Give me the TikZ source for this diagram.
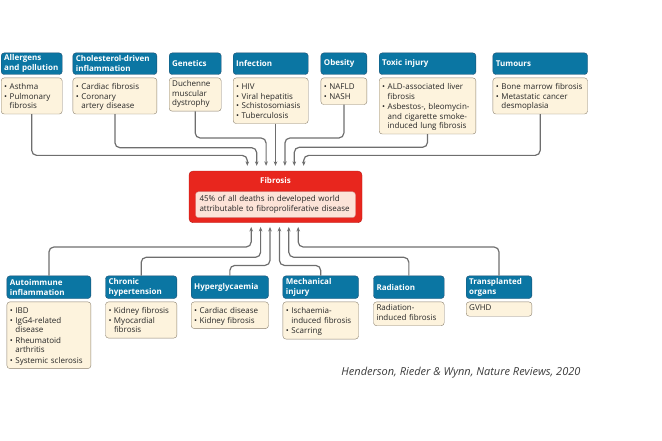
\documentclass[tikz,border=0pt]{standalone}
\usepackage{fontspec}
\setmainfont{Open Sans}
\usetikzlibrary{positioning, arrows.meta}
\definecolor{headblue}{HTML}{0B76A3}
\definecolor{headline}{HTML}{1E4F72}
\definecolor{bodyfill}{HTML}{FDF3DD}
\definecolor{bodyline}{HTML}{8B806E}
\definecolor{linkgray}{HTML}{6E6E6E}
\definecolor{fibred}{HTML}{E8261E}
\definecolor{fibline}{HTML}{B81C16}
\definecolor{fibpink}{HTML}{FCE3D8}
\definecolor{citegray}{HTML}{3A3A3A}
\setlength{\lineskip}{0pt}
% one bullet line, later lines hang under the text
\newcommand{\blt}[1]{\par\noindent\makebox[5.5pt][l]{\textbullet}\parbox[t]{\dimexpr\hsize-5.5pt\relax}{\raggedright\strut#1\strut}}
\tikzset{
hdr/.style={draw=headline, fill=headblue, rounded corners=3pt, text=white, font=\fontsize{8}{10}\selectfont\bfseries, align=left, text width=#1, inner xsep=3pt, inner ysep=1pt, minimum height=21.6pt, anchor=north west}, % blue title box of a cause
bdy/.style={draw=bodyline, fill=bodyfill, rounded corners=3pt, text=black!85, font=\fontsize{8}{9.5}\selectfont, align=left, text width=#1, inner xsep=3pt, inner ysep=2.4pt}, % cream box with the diseases
link/.style={draw=linkgray, line width=1.2pt, rounded corners=5pt, -{Stealth[length=4.5pt, width=3.6pt]}}, % connector into the fibrosis box
}

\begin{document}
\begin{tikzpicture}[x=1pt, y=-1pt]
\useasboundingbox (0,0) rectangle (662,441);
% causes above
\node[hdr=55pt] (allH) at (1,52.7) {Allergens\\and pollution};
\node[bdy=55pt, below=3pt of allH] (allB) {\blt{Asthma}\blt{Pulmonary\\fibrosis}};
\node[hdr=78pt] (cholH) at (72.7,52.7) {Cholesterol-driven\\inflammation};
\node[bdy=78pt, below=3pt of cholH] (cholB) {\blt{Cardiac fibrosis}\blt{Coronary\\artery disease}};
\node[hdr=46pt] (genH) at (169,52.7) {Genetics};
\node[bdy=46pt, below=3pt of genH] (genB) {\strut Duchenne\\muscular\\dystrophy\strut};
\node[hdr=69pt] (infH) at (233,52.7) {Infection};
\node[bdy=69pt, below=3pt of infH] (infB) {\blt{HIV}\blt{Viral hepatitis}\blt{Schistosomiasis}\blt{Tuberculosis}};
\node[hdr=40pt] (obeH) at (320.7,52.7) {Obesity};
\node[bdy=40pt, below=3pt of obeH] (obeB) {\blt{NAFLD}\blt{NASH}};
\node[hdr=90.7pt] (toxH) at (379,52.7) {Toxic injury};
\node[bdy=90.7pt, below=3pt of toxH] (toxB) {\blt{ALD-associated liver\\fibrosis}\blt{Asbestos-, bleomycin-\\and cigarette smoke-\\induced lung fibrosis}};
\node[hdr=88.6pt] (tumH) at (492.7,52.7) {Tumours};
\node[bdy=88.6pt, below=3pt of tumH] (tumB) {\blt{Bone marrow fibrosis}\blt{Metastatic cancer\\desmoplasia}};

% fibrosis
\node[draw=fibline, fill=fibred, rounded corners=4pt, minimum width=173pt, minimum height=51.7pt] (fib) at (275.5,196.9) {};
\node[text=white, font=\fontsize{8}{10}\selectfont\bfseries, below=3pt of fib.north] (fibT) {Fibrosis};
\node[draw=fibline!60, fill=fibpink, rounded corners=3pt, text width=152pt, inner xsep=4pt, inner ysep=2pt, minimum height=26pt, align=left, text=black!85, font=\fontsize{8}{10}\selectfont] (fibN) at (275.5,204.7) {45\% of all deaths in developed world\\attributable to fibroproliferative disease};

% causes below
\node[hdr=78pt, minimum height=22.6pt] (autoH) at (6.7,275.7) {Autoimmune\\inflammation};
\node[bdy=78pt, below=3pt of autoH] (autoB) {\blt{IBD}\blt{IgG4-related\\disease}\blt{Rheumatoid\\arthritis}\blt{Systemic sclerosis}};
\node[hdr=65.4pt, minimum height=22.6pt] (chrH) at (105.3,275.7) {Chronic\\hypertension};
\node[bdy=65.4pt, below=3pt of chrH] (chrB) {\blt{Kidney fibrosis}\blt{Myocardial\\fibrosis}};
\node[hdr=71.3pt, minimum height=22.6pt] (hypH) at (191,275.7) {Hyperglycaemia};
\node[bdy=71.3pt, below=3pt of hypH] (hypB) {\blt{Cardiac disease}\blt{Kidney fibrosis}};
\node[hdr=69.6pt, minimum height=22.6pt] (mecH) at (282.7,275.7) {Mechanical\\injury};
\node[bdy=69.6pt, below=3pt of mecH] (mecB) {\blt{Ischaemia-\\induced fibrosis}\blt{Scarring}};
\node[hdr=64.7pt, minimum height=22.6pt] (radH) at (373.3,275.7) {Radiation};
\node[bdy=64.7pt, below=3pt of radH] (radB) {\strut Radiation-\\induced fibrosis\strut};
\node[hdr=59.7pt, minimum height=22.6pt] (traH) at (466,275.7) {Transplanted\\organs};
\node[bdy=59.7pt, below=3pt of traH] (traB) {\strut GVHD\strut};

\node[font=\fontsize{11}{13}\selectfont\itshape, text=citegray] (cite) at (461,372.3) {Henderson, Rieder \& Wynn, Nature Reviews, 2020};

% arrow ends
\coordinate (t1) at ([xshift=-28.2pt, yshift=5pt]fib.north);
\coordinate (t2) at ([xshift=-18.8pt, yshift=5pt]fib.north);
\coordinate (t3) at ([xshift=-9.4pt, yshift=5pt]fib.north);
\coordinate (t4) at ([yshift=5pt]fib.north);
\coordinate (t5) at ([xshift=9.4pt, yshift=5pt]fib.north);
\coordinate (t6) at ([xshift=18.8pt, yshift=5pt]fib.north);
\coordinate (t7) at ([xshift=28.2pt, yshift=5pt]fib.north);
\coordinate (b1) at ([xshift=-24.3pt, yshift=-4pt]fib.south);
\coordinate (b2) at ([xshift=-14.9pt, yshift=-4pt]fib.south);
\coordinate (b3) at ([xshift=-5.5pt, yshift=-4pt]fib.south);
\coordinate (b4) at ([xshift=3.9pt, yshift=-4pt]fib.south);
\coordinate (b5) at ([xshift=13.3pt, yshift=-4pt]fib.south);
\coordinate (b6) at ([xshift=22.7pt, yshift=-4pt]fib.south);

\draw[link] (allB.south) -- (allB.south |- 0,155.4) -| (t1);
\draw[link] (cholB.south) -- (cholB.south |- 0,147.7) -| (t2);
\draw[link] (genB.south) -- (genB.south |- 0,138) -| (t3);
\draw[link] (infB.south -| t4) -- (t4);
\draw[link] (obeB.south) -- (obeB.south |- 0,138) -| (t5);
\draw[link] (toxB.south) -- (toxB.south |- 0,147.3) -| (t6);
\draw[link] (tumB.south) -- (tumB.south |- 0,155.4) -| (t7);

\draw[link] (autoH.north) -- (autoH.north |- 0,247) -| (b1);
\draw[link] (chrH.north) -- (chrH.north |- 0,257.3) -| (b2);
\draw[link] (hypH.north) -- (hypH.north |- 0,265.4) -| (b3);
\draw[link] (mecH.north) -- (mecH.north |- 0,265.4) -| (b4);
\draw[link] (radH.north) -- (radH.north |- 0,257.3) -| (b5);
\draw[link] (traH.north) -- (traH.north |- 0,247) -| (b6);
\end{tikzpicture}
\end{document}
